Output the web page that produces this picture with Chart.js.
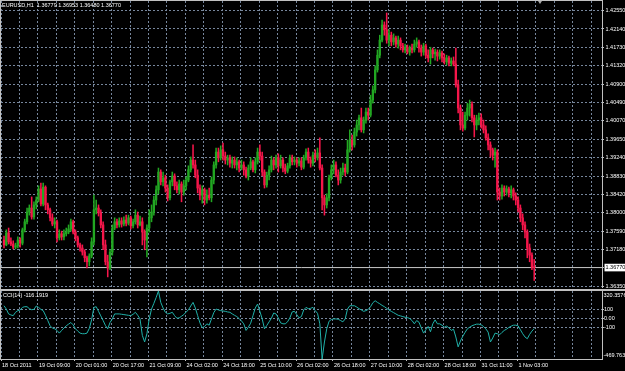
<!DOCTYPE html>
<html>
<head>
<meta charset="utf-8">
<title>EURUSD,H1</title>
<script src="https://cdn.jsdelivr.net/npm/chart.js@4.4.1/dist/chart.umd.min.js"></script>
<style>
  html, body { margin: 0; padding: 0; background: #000; }
  #wrap { position: relative; width: 625px; height: 371px; overflow: hidden; background: #000; }
  canvas { position: absolute; left: 0; }
  #priceCanvas { top: 0; }
  #cciCanvas { top: 288px; }
  .frame { position: absolute; background: #c0c0c0; }
  #shift { position: absolute; left: 538px; top: 1px; width: 0; height: 0;
           border-left: 2px solid transparent; border-right: 2px solid transparent; border-top: 3px solid #a8a8a8; }
</style>
</head>
<body>
<div id="wrap">
  <canvas id="priceCanvas" width="625" height="288"></canvas>
  <canvas id="cciCanvas" width="625" height="83"></canvas>
  <div class="frame" style="left:0;top:0;width:603px;height:1px"></div>
  <div class="frame" style="left:0;top:0;width:1px;height:360px"></div>
  <div class="frame" style="left:0;top:289px;width:625px;height:2px"></div>
  <div id="shift"></div>
</div>
<script>
const symbolName = 'EURUSD,H1';

// hourly bars, 18 Oct 2011 -> 1 Nov 2011
const opens = [
  1.3739, 1.3728, 1.3755, 1.3735, 1.3730, 1.3723, 1.3726, 1.3739, 1.3732, 1.3762,
  1.3780, 1.3802, 1.3811, 1.3791, 1.3818, 1.3829, 1.3854, 1.3820, 1.3858, 1.3818,
  1.3807, 1.3789, 1.3775, 1.3780, 1.3744, 1.3753, 1.3746, 1.3753, 1.3757, 1.3764,
  1.3780, 1.3757, 1.3744, 1.3728, 1.3721, 1.3712, 1.3699, 1.3690, 1.3703, 1.3735,
  1.3807, 1.3811, 1.3800, 1.3773, 1.3728, 1.3690, 1.3676, 1.3712, 1.3766, 1.3780,
  1.3773, 1.3782, 1.3775, 1.3784, 1.3777, 1.3789, 1.3771, 1.3780, 1.3795, 1.3773,
  1.3780, 1.3757, 1.3739, 1.3766, 1.3789, 1.3802, 1.3829, 1.3852, 1.3892, 1.3870,
  1.3879, 1.3856, 1.3834, 1.3870, 1.3883, 1.3861, 1.3852, 1.3865, 1.3847, 1.3861,
  1.3874, 1.3897, 1.3919, 1.3908, 1.3885, 1.3856, 1.3840, 1.3852, 1.3829, 1.3840,
  1.3834, 1.3874, 1.3908, 1.3937, 1.3924, 1.3942, 1.3928, 1.3919, 1.3924, 1.3912,
  1.3919, 1.3908, 1.3915, 1.3901, 1.3908, 1.3897, 1.3883, 1.3901, 1.3915, 1.3897,
  1.3915, 1.3937, 1.3928, 1.3892, 1.3863, 1.3885, 1.3897, 1.3919, 1.3908, 1.3924,
  1.3906, 1.3919, 1.3901, 1.3894, 1.3906, 1.3924, 1.3915, 1.3919, 1.3912, 1.3917,
  1.3903, 1.3924, 1.3937, 1.3919, 1.3912, 1.3930, 1.3924, 1.3935, 1.3901, 1.3834,
  1.3818, 1.3834, 1.3879, 1.3897, 1.3908, 1.3885, 1.3874, 1.3892, 1.3901, 1.3892,
  1.3942, 1.3964, 1.3953, 1.3982, 1.3998, 1.4014, 1.3987, 1.4009, 1.4027, 1.4020,
  1.4054, 1.4077, 1.4122, 1.4155, 1.4189, 1.4223, 1.4212, 1.4189, 1.4200, 1.4185,
  1.4194, 1.4180, 1.4189, 1.4176, 1.4167, 1.4173, 1.4162, 1.4171, 1.4167, 1.4180,
  1.4185, 1.4171, 1.4162, 1.4176, 1.4155, 1.4149, 1.4167, 1.4158, 1.4162, 1.4153,
  1.4160, 1.4149, 1.4140, 1.4149, 1.4137, 1.4142, 1.4135, 1.4088, 1.4036, 1.3998,
  1.3991, 1.4020, 1.4036, 1.4045, 1.4014, 1.3998, 1.4009, 1.4014, 1.3998, 1.3987,
  1.3969, 1.3953, 1.3942, 1.3930, 1.3937, 1.3847, 1.3838, 1.3856, 1.3847, 1.3854,
  1.3845, 1.3852, 1.3838, 1.3829, 1.3811, 1.3789, 1.3773, 1.3757, 1.3721, 1.3705,
  1.36779
];
const highs = [
  1.3748, 1.3762, 1.3766, 1.3744, 1.3737, 1.3732, 1.3746, 1.3744, 1.3766, 1.3786,
  1.3811, 1.3818, 1.3836, 1.3825, 1.3836, 1.3861, 1.3867, 1.3867, 1.3861, 1.3822,
  1.3811, 1.3798, 1.3789, 1.3784, 1.3762, 1.3759, 1.3762, 1.3766, 1.3773, 1.3786,
  1.3784, 1.3762, 1.3748, 1.3732, 1.3728, 1.3717, 1.3703, 1.3708, 1.3744, 1.3840,
  1.3829, 1.3818, 1.3807, 1.3780, 1.3739, 1.3705, 1.3717, 1.3773, 1.3789, 1.3786,
  1.3789, 1.3789, 1.3791, 1.3795, 1.3795, 1.3793, 1.3786, 1.3807, 1.3802, 1.3793,
  1.3789, 1.3762, 1.3773, 1.3807, 1.3818, 1.3838, 1.3861, 1.3901, 1.3897, 1.3892,
  1.3885, 1.3863, 1.3874, 1.3892, 1.3888, 1.3870, 1.3874, 1.3870, 1.3874, 1.3881,
  1.3906, 1.3926, 1.3953, 1.3919, 1.3897, 1.3863, 1.3861, 1.3856, 1.3852, 1.3856,
  1.3881, 1.3915, 1.3946, 1.3946, 1.3951, 1.3957, 1.3937, 1.3930, 1.3930, 1.3926,
  1.3926, 1.3924, 1.3919, 1.3919, 1.3915, 1.3903, 1.3908, 1.3924, 1.3919, 1.3924,
  1.3946, 1.3953, 1.3937, 1.3897, 1.3892, 1.3906, 1.3928, 1.3924, 1.3930, 1.3933,
  1.3930, 1.3924, 1.3910, 1.3912, 1.3930, 1.3930, 1.3926, 1.3924, 1.3924, 1.3924,
  1.3930, 1.3944, 1.3946, 1.3926, 1.3937, 1.3942, 1.3946, 1.3969, 1.3908, 1.3840,
  1.3843, 1.3885, 1.3908, 1.3919, 1.3915, 1.3897, 1.3901, 1.3912, 1.3910, 1.3964,
  1.3987, 1.3975, 1.3991, 1.4009, 1.4020, 1.4036, 1.4016, 1.4036, 1.4036, 1.4065,
  1.4086, 1.4131, 1.4167, 1.4200, 1.4234, 1.4230, 1.4250, 1.4212, 1.4207, 1.4203,
  1.4198, 1.4198, 1.4194, 1.4182, 1.4180, 1.4178, 1.4176, 1.4180, 1.4189, 1.4194,
  1.4189, 1.4178, 1.4182, 1.4180, 1.4167, 1.4173, 1.4171, 1.4169, 1.4167, 1.4167,
  1.4164, 1.4158, 1.4155, 1.4153, 1.4149, 1.4151, 1.4171, 1.4099, 1.4043, 1.4027,
  1.4027, 1.4047, 1.4054, 1.4050, 1.4020, 1.4020, 1.4025, 1.4023, 1.4009, 1.3996,
  1.3978, 1.3960, 1.3946, 1.3946, 1.3942, 1.3856, 1.3863, 1.3861, 1.3861, 1.3858,
  1.3861, 1.3856, 1.3845, 1.3836, 1.3818, 1.3798, 1.3780, 1.3762, 1.3730, 1.3710,
  1.36953
];
const lows = [
  1.3721, 1.3726, 1.3730, 1.3726, 1.3719, 1.3719, 1.3721, 1.3723, 1.3728, 1.3757,
  1.3775, 1.3795, 1.3786, 1.3786, 1.3809, 1.3825, 1.3816, 1.3816, 1.3807, 1.3798,
  1.3782, 1.3771, 1.3766, 1.3735, 1.3739, 1.3739, 1.3739, 1.3748, 1.3753, 1.3759,
  1.3753, 1.3737, 1.3723, 1.3714, 1.3705, 1.3690, 1.3676, 1.3681, 1.3699, 1.3728,
  1.3798, 1.3793, 1.3766, 1.3717, 1.3683, 1.3656, 1.3672, 1.3705, 1.3762, 1.3766,
  1.3768, 1.3768, 1.3771, 1.3771, 1.3773, 1.3764, 1.3766, 1.3775, 1.3766, 1.3771,
  1.3728, 1.3717, 1.3701, 1.3757, 1.3780, 1.3795, 1.3818, 1.3843, 1.3863, 1.3861,
  1.3847, 1.3827, 1.3829, 1.3861, 1.3852, 1.3845, 1.3843, 1.3825, 1.3840, 1.3852,
  1.3870, 1.3892, 1.3901, 1.3879, 1.3845, 1.3829, 1.3822, 1.3818, 1.3822, 1.3829,
  1.3825, 1.3865, 1.3901, 1.3915, 1.3919, 1.3919, 1.3910, 1.3908, 1.3903, 1.3901,
  1.3901, 1.3897, 1.3892, 1.3897, 1.3885, 1.3879, 1.3874, 1.3897, 1.3892, 1.3890,
  1.3910, 1.3919, 1.3883, 1.3856, 1.3858, 1.3874, 1.3892, 1.3897, 1.3901, 1.3892,
  1.3901, 1.3892, 1.3888, 1.3890, 1.3901, 1.3908, 1.3908, 1.3903, 1.3906, 1.3897,
  1.3899, 1.3919, 1.3912, 1.3903, 1.3906, 1.3915, 1.3919, 1.3897, 1.3807, 1.3795,
  1.3811, 1.3827, 1.3874, 1.3888, 1.3881, 1.3863, 1.3867, 1.3885, 1.3883, 1.3888,
  1.3937, 1.3942, 1.3948, 1.3973, 1.3987, 1.3982, 1.3980, 1.4002, 1.4009, 1.4016,
  1.4047, 1.4070, 1.4117, 1.4149, 1.4185, 1.4200, 1.4182, 1.4176, 1.4176, 1.4178,
  1.4173, 1.4171, 1.4167, 1.4162, 1.4160, 1.4158, 1.4155, 1.4160, 1.4162, 1.4173,
  1.4162, 1.4153, 1.4155, 1.4149, 1.4140, 1.4135, 1.4149, 1.4144, 1.4142, 1.4146,
  1.4140, 1.4135, 1.4133, 1.4131, 1.4131, 1.4131, 1.4083, 1.4025, 1.3987, 1.3984,
  1.3987, 1.4009, 1.4018, 1.4005, 1.3971, 1.3987, 1.3998, 1.3991, 1.3980, 1.3964,
  1.3942, 1.3926, 1.3919, 1.3903, 1.3829, 1.3829, 1.3831, 1.3838, 1.3840, 1.3836,
  1.3834, 1.3829, 1.3818, 1.3802, 1.3780, 1.3762, 1.3744, 1.3699, 1.3690, 1.3672,
  1.36480
];
const closes = [
  1.3728, 1.3755, 1.3735, 1.3730, 1.3723, 1.3726, 1.3739, 1.3732, 1.3762, 1.3780,
  1.3802, 1.3811, 1.3791, 1.3818, 1.3829, 1.3854, 1.3820, 1.3858, 1.3818, 1.3807,
  1.3789, 1.3775, 1.3780, 1.3744, 1.3753, 1.3746, 1.3753, 1.3757, 1.3764, 1.3780,
  1.3757, 1.3744, 1.3728, 1.3721, 1.3712, 1.3699, 1.3690, 1.3703, 1.3735, 1.3807,
  1.3811, 1.3800, 1.3773, 1.3728, 1.3690, 1.3676, 1.3712, 1.3766, 1.3780, 1.3773,
  1.3782, 1.3775, 1.3784, 1.3777, 1.3789, 1.3771, 1.3780, 1.3795, 1.3773, 1.3780,
  1.3757, 1.3739, 1.3766, 1.3789, 1.3802, 1.3829, 1.3852, 1.3892, 1.3870, 1.3879,
  1.3856, 1.3834, 1.3870, 1.3883, 1.3861, 1.3852, 1.3865, 1.3847, 1.3861, 1.3874,
  1.3897, 1.3919, 1.3908, 1.3885, 1.3856, 1.3840, 1.3852, 1.3829, 1.3840, 1.3834,
  1.3874, 1.3908, 1.3937, 1.3924, 1.3942, 1.3928, 1.3919, 1.3924, 1.3912, 1.3919,
  1.3908, 1.3915, 1.3901, 1.3908, 1.3897, 1.3883, 1.3901, 1.3915, 1.3897, 1.3915,
  1.3937, 1.3928, 1.3892, 1.3863, 1.3885, 1.3897, 1.3919, 1.3908, 1.3924, 1.3906,
  1.3919, 1.3901, 1.3894, 1.3906, 1.3924, 1.3915, 1.3919, 1.3912, 1.3917, 1.3903,
  1.3924, 1.3937, 1.3919, 1.3912, 1.3930, 1.3924, 1.3935, 1.3901, 1.3834, 1.3818,
  1.3834, 1.3879, 1.3897, 1.3908, 1.3885, 1.3874, 1.3892, 1.3901, 1.3892, 1.3942,
  1.3964, 1.3953, 1.3982, 1.3998, 1.4014, 1.3987, 1.4009, 1.4027, 1.4020, 1.4054,
  1.4077, 1.4122, 1.4155, 1.4189, 1.4223, 1.4212, 1.4189, 1.4200, 1.4185, 1.4194,
  1.4180, 1.4189, 1.4176, 1.4167, 1.4173, 1.4162, 1.4171, 1.4167, 1.4180, 1.4185,
  1.4171, 1.4162, 1.4176, 1.4155, 1.4149, 1.4167, 1.4158, 1.4162, 1.4153, 1.4160,
  1.4149, 1.4140, 1.4149, 1.4137, 1.4142, 1.4135, 1.4088, 1.4036, 1.3998, 1.3991,
  1.4020, 1.4036, 1.4045, 1.4014, 1.3998, 1.4009, 1.4014, 1.3998, 1.3987, 1.3969,
  1.3953, 1.3942, 1.3930, 1.3937, 1.3847, 1.3838, 1.3856, 1.3847, 1.3854, 1.3845,
  1.3852, 1.3838, 1.3829, 1.3811, 1.3789, 1.3773, 1.3757, 1.3721, 1.3705, 1.3678,
  1.3677
];

// CCI(14), one value per bar
const cciValues = [
  149, 111, 54, 42, 34, 73, 92, 100, 130, 138,
  138, 115, 103, 107, 146, 130, 107, 92, 38, -23,
  -84, -111, -119, -138, -169, -138, -111, -84, -65, -46,
  -73, -119, -146, -169, -176, -176, -169, -115, -15, 130,
  138, 84, 31, -23, -80, -119, -46, -4, 54, 54,
  54, 50, 46, 42, 38, 34, 50, 73, 38, -4,
  -195, -272, -176, -4, 111, 176, 245, 320.3576, 188, 123,
  73, 54, 61, 73, 34, 4, 8, 27, 46, 77,
  100, 146, 188, 123, 34, -50, -107, -92, -61, -77,
  -4, 69, 111, 100, 92, 88, 84, 77, 73, 54,
  38, 23, 0, -27, -61, -138, -100, -54, 34, 123,
  169, 84, -4, -119, -80, -38, 4, 65, 54, 8,
  -50, -61, -61, -38, 8, 77, 84, 46, 8, 23,
  100, 130, 115, 119, 130, 92, 61, -61, -469.763, -272,
  -119, -31, -11, -4, -4, -8, -23, -38, -4, 111,
  149, 149, 149, 134, 115, 100, 84, 92, 107, 138,
  184, 207, 188, 172, 153, 138, 119, 100, 84, 69,
  54, 38, 31, 23, 15, 11, 0, -23, -61, -23,
  -42, -107, -169, -130, -92, -153, -61, -15, -61, -61,
  -77, -100, -88, -107, -138, -123, -214, -329, -260, -207,
  -161, -119, -100, -84, -73, -65, -65, -73, -92, -119,
  -157, -272, -226, -169, -176, -188, -161, -138, -123, -103,
  -88, -77, -77, -84, -130, -176, -214, -234, -184, -146,
  -116.1919
];

const priceTicks = [1.3635, 1.3677, 1.3718, 1.3759, 1.3800, 1.3842, 1.3883, 1.3924,
                    1.3965, 1.4007, 1.4049, 1.4090, 1.4132, 1.4173, 1.4214, 1.4255];
const priceTickLabels = ['1.36350', '1.36770', '1.37180', '1.37590', '1.38000', '1.38420', '1.38830', '1.39240',
                         '1.39650', '1.40070', '1.40490', '1.40900', '1.41320', '1.41730', '1.42140', '1.42550'];

const cciTicks = [-100, 0, 100];
const cciTickLabels = ['-100', '0.00', '100'];
const cciRange = [-469.763, 320.3576];
const cciRangeLabels = ['-469.763', '320.3576'];

// one grid line every 8 bars, a time label on every second one
const timeLabels = ['18 Oct 2011', '', '19 Oct 09:00', '', '20 Oct 01:00', '', '20 Oct 17:00', '',
                    '21 Oct 09:00', '', '24 Oct 02:00', '', '24 Oct 18:00', '', '25 Oct 10:00', '',
                    '26 Oct 02:00', '', '26 Oct 18:00', '', '27 Oct 10:00', '', '28 Oct 02:00', '',
                    '28 Oct 18:00', '', '31 Oct 11:00', '', '1 Nov 03:00', '', '', '', ''];

const xMin = -1.3, xMax = 259.4;   // right side left empty (chart shift)
const gridStart = -1.3, gridStep = 8;

const upColor = '#22a722';
const downColor = '#f5164a';
const gridColor = '#76869c';
const axisColor = '#c0c0c0';
const fontFamily = "'Liberation Sans', Arial, sans-serif";

const last = closes.length - 1;
const gridBars = timeLabels.map((_, k) => gridStart + k * gridStep);
const candleColor = ctx => closes[ctx.dataIndex] >= opens[ctx.dataIndex] ? upColor : downColor;

const captionPlugin = {
  id: 'caption',
  afterDraw(chart, args, opts) {
    const ctx = chart.ctx;
    ctx.save();
    ctx.font = '5.5px ' + fontFamily;
    ctx.fillStyle = '#ffffff';
    ctx.textBaseline = 'top';
    ctx.fillText(opts.text, opts.x, opts.y);
    ctx.restore();
  }
};

// min / max labels of the indicator window sit just inside its edges
const rangeLabelPlugin = {
  id: 'rangeLabels',
  afterDraw(chart) {
    const s = chart.scales.y;
    const ctx = chart.ctx;
    ctx.save();
    ctx.font = '5.5px ' + fontFamily;
    ctx.fillStyle = '#ffffff';
    ctx.textAlign = 'left';
    ctx.textBaseline = 'top';
    ctx.fillText(cciRangeLabels[1], s.left + 1.5, s.getPixelForValue(cciRange[1]) + 1.5);
    ctx.textBaseline = 'bottom';
    ctx.fillText(cciRangeLabels[0], s.left + 1.5, s.getPixelForValue(cciRange[0]) - 1);
    ctx.restore();
  }
};

function xAxis(showLabels) {
  return {
    type: 'linear',
    min: xMin,
    max: xMax,
    offset: false,
    afterBuildTicks: s => { s.ticks = gridBars.map(v => ({ value: v })); },
    afterFit: s => {
      s.height = showLabels ? 12 : 0;
      s.paddingLeft = 0; s.paddingRight = 0;
    },
    grid: {
      offset: false,
      color: gridColor,
      lineWidth: 1,
      drawTicks: showLabels,
      tickLength: 2,
      tickColor: ctx => timeLabels[ctx.index] ? axisColor : 'rgba(0,0,0,0)',
      tickBorderDash: []
    },
    border: { display: showLabels, color: axisColor, width: 1, dash: [2, 2] },
    ticks: {
      display: showLabels,
      autoSkip: false,
      maxRotation: 0,
      align: 'start',
      labelOffset: 1,
      padding: 1,
      color: '#ffffff',
      font: { family: fontFamily, size: 5.5 },
      callback: (v, i) => timeLabels[i]
    }
  };
}

const candleIdx = opens.map((_, i) => i);

new Chart(document.getElementById('priceCanvas'), {
  type: 'bar',
  data: {
    datasets: [
      {
        type: 'line',
        data: [{ x: xMin, y: closes[last] }, { x: xMax, y: closes[last] }],
        borderColor: '#c8c8c8',
        borderWidth: 1,
        pointRadius: 0,
        order: 3
      },
      {
        data: candleIdx.map(i => ({ x: i, y: [lows[i], highs[i]] })),
        backgroundColor: candleColor,
        barThickness: 0.9,
        grouped: false,
        borderWidth: 0,
        order: 2
      },
      {
        data: candleIdx.map(i => ({ x: i, y: [opens[i], closes[i]] })),
        backgroundColor: candleColor,
        barThickness: 1.7,
        minBarLength: 0.8,
        grouped: false,
        borderWidth: 0,
        order: 1
      }
    ]
  },
  options: {
    responsive: false,
    devicePixelRatio: 1,
    animation: false,
    layout: { padding: { left: 1, top: 1, right: 0, bottom: 0 } },
    plugins: {
      legend: { display: false },
      tooltip: { enabled: false },
      caption: {
        text: symbolName + '  ' + [opens[last], highs[last], lows[last], closes[last]].map(v => v.toFixed(5)).join(' '),
        x: 2, y: 2.5
      }
    },
    scales: {
      x: xAxis(false),
      y: {
        type: 'linear',
        position: 'right',
        min: 1.3631,
        max: 1.4277,
        beginAtZero: false,
        afterBuildTicks: s => { s.ticks = priceTicks.map(v => ({ value: v })); },
        afterFit: s => { s.width = 23; s.paddingTop = 0; s.paddingBottom = 0; },
        grid: {
          color: ctx => ctx.index === 1 ? 'rgba(0,0,0,0)' : gridColor,
          lineWidth: 1,
          tickLength: 2,
          tickColor: axisColor,
          tickBorderDash: []
        },
        border: { display: true, color: axisColor, width: 1, dash: [2, 2] },
        ticks: {
          autoSkip: false,
          padding: 1.5,
          font: { family: fontFamily, size: 5.5 },
          color: ctx => ctx.index === 1 ? '#000000' : '#ffffff',
          showLabelBackdrop: ctx => ctx.index === 1,
          backdropColor: '#ffffff',
          backdropPadding: { top: 0.5, bottom: 0.5, left: 1, right: 3 },
          callback: (v, i) => priceTickLabels[i]
        }
      }
    }
  },
  plugins: [captionPlugin]
});

new Chart(document.getElementById('cciCanvas'), {
  type: 'line',
  data: {
    datasets: [{
      data: cciValues.map((v, i) => ({ x: i, y: v })),
      borderColor: '#20b2aa',
      borderWidth: 1,
      pointRadius: 0,
      tension: 0
    }]
  },
  options: {
    responsive: false,
    devicePixelRatio: 1,
    animation: false,
    layout: { padding: { left: 1, top: 3, right: 0, bottom: 0 } },
    plugins: {
      legend: { display: false },
      tooltip: { enabled: false },
      caption: { text: 'CCI(14) ' + cciValues[last].toFixed(4), x: 3, y: 4.5 }
    },
    scales: {
      x: xAxis(true),
      y: {
        type: 'linear',
        position: 'right',
        min: cciRange[0],
        max: cciRange[1],
        afterBuildTicks: s => { s.ticks = cciTicks.map(v => ({ value: v })); },
        afterFit: s => { s.width = 23; s.paddingTop = 0; s.paddingBottom = 0; },
        grid: {
          color: gridColor,
          lineWidth: 1,
          tickLength: 2,
          tickColor: axisColor,
          tickBorderDash: []
        },
        border: { display: true, color: axisColor, width: 1, dash: [2, 2] },
        ticks: {
          autoSkip: false,
          padding: 0,
          font: { family: fontFamily, size: 5.5 },
          color: '#ffffff',
          callback: (v, i) => cciTickLabels[i]
        }
      }
    }
  },
  plugins: [captionPlugin, rangeLabelPlugin]
});
</script>
</body>
</html>
